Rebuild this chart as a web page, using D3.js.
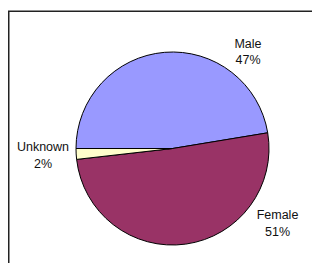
<!DOCTYPE html>
<html>
<head>
<meta charset="utf-8">
<script src="https://cdn.jsdelivr.net/npm/d3@7"></script>
<style>
  body { margin: 0; background: #fff; }
  svg { display: block; }
</style>
</head>
<body>
<div id="chart"></div>
<script>
// data
var categories = ["Male", "Female", "Unknown"];
var values = [47.4, 50.8, 1.8];
var colors = ["#9999FF", "#993366", "#FFFFCC"];

var width = 312, height = 263;
var cx = 172.5, cy = 148.5, radius = 96.5;

var svg = d3.select("#chart").append("svg")
  .attr("width", width)
  .attr("height", height);

// ramme
svg.append("rect")
  .attr("x", 8.75).attr("y", 11.25)
  .attr("width", 320).attr("height", 280)
  .attr("fill", "none")
  .attr("stroke", "#222")
  .attr("stroke-width", 1.5);

var data = categories.map(function (c, i) { return { name: c, value: values[i], color: colors[i] }; });
var total = d3.sum(values);

// starter ved venstre kant (kl. 9), med uret
var pie = d3.pie().sort(null).value(function (d) { return d.value; })
  .startAngle(-Math.PI / 2).endAngle(1.5 * Math.PI);
var arc = d3.arc().innerRadius(0).outerRadius(radius);

var g = svg.append("g").attr("transform", "translate(" + cx + "," + cy + ")");
g.selectAll("path")
  .data(pie(data))
  .enter()
  .append("path")
  .attr("d", arc)
  .attr("fill", function (d) { return d.data.color; })
  .attr("stroke", "#000")
  .attr("stroke-width", 1)
  .attr("stroke-linejoin", "round");

// labels
var labelPos = {
  "Male": [248, 47.5],
  "Female": [277.5, 219],
  "Unknown": [43, 151]
};
var lab = svg.selectAll("text.label")
  .data(data)
  .enter()
  .append("text")
  .attr("class", "label")
  .attr("text-anchor", "middle")
  .attr("font-family", "Arial, 'Liberation Sans', sans-serif")
  .attr("font-size", "12.5px")
  .attr("fill", "#111");
lab.append("tspan")
  .attr("x", function (d) { return labelPos[d.name][0]; })
  .attr("y", function (d) { return labelPos[d.name][1]; })
  .text(function (d) { return d.name; });
lab.append("tspan")
  .attr("x", function (d) { return labelPos[d.name][0]; })
  .attr("y", function (d) { return labelPos[d.name][1] + 16.5; })
  .text(function (d) { return Math.round(d.value / total * 100) + "%"; });
</script>
</body>
</html>
